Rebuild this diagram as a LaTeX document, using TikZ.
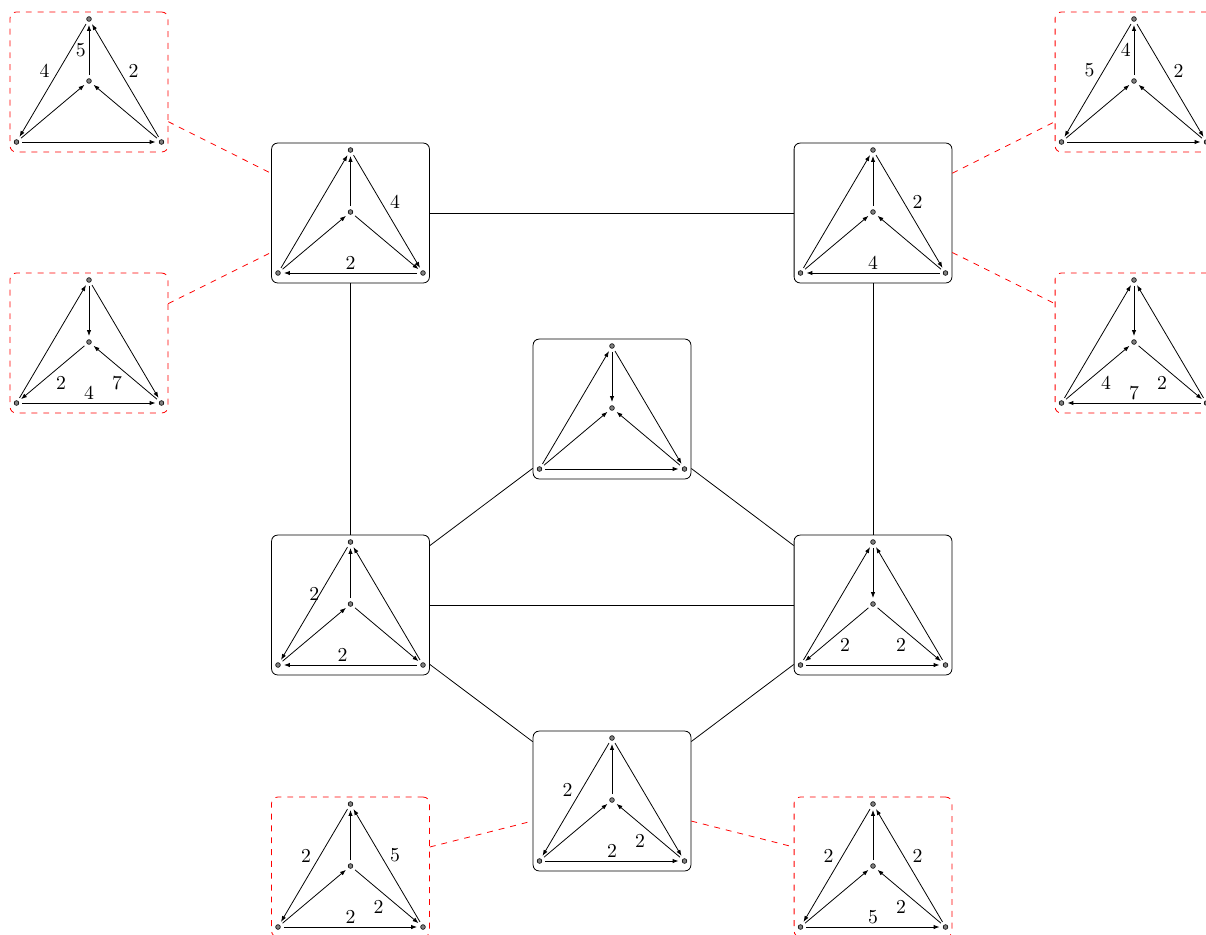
\documentclass[tikz,border=0pt]{standalone}
\usetikzlibrary{arrows.meta}
\tikzset{
  vtx/.style={circle, draw=black, fill=gray, line width=0.3pt, inner sep=0pt,
              minimum size=2.4pt, outer sep=1.8pt},
  arc/.style={-{Latex[length=3pt,width=2.2pt]}},
  lbl/.style={inner sep=1.5pt},
  gbox/.style={draw, rounded corners=3pt, minimum width=2.81cm,
               minimum height=2.49cm, inner sep=0pt},
  redbox/.style={gbox, draw=red, dashed},
  redlink/.style={draw=red, dashed},
}
% frame and the four vertices of one graph: name, x, y, frame style
\newcommand{\graphat}[4]{%
  \node[#4] (#1) at (#2,#3) {};
  \begin{scope}[shift={(#2,#3)}]
    \node[vtx] (#1t) at (0,-63) {};
    \node[vtx] (#1c) at (0,-1) {};
    \node[vtx] (#1l) at (-72.5,60) {};
    \node[vtx] (#1r) at (72.5,60) {};
  \end{scope}}
% arcs without a weight
\newcommand{\arcsof}[2]{%
  \foreach \a/\b in {#2} \draw[arc] (#1\a) -- (#1\b);}

\begin{document}
\begin{tikzpicture}[x=0.0178cm, y=-0.0178cm]
  \useasboundingbox (0,0) rectangle (1206,934);

  \graphat{g1}{89}{82}{redbox}
  \graphat{g2}{350.5}{213}{gbox}
  \graphat{g3}{873}{213}{gbox}
  \graphat{g4}{1134}{82}{redbox}
  \graphat{g5}{89}{343}{redbox}
  \graphat{g6}{1134}{343}{redbox}
  \graphat{g7}{612}{409}{gbox}
  \graphat{g8}{350.5}{605}{gbox}
  \graphat{g9}{873}{605}{gbox}
  \graphat{g10}{612}{801}{gbox}
  \graphat{g11}{350.5}{867}{redbox}
  \graphat{g12}{873}{867}{redbox}

  % links between the graphs
  \draw (g2) -- (g3);
  \draw (g2) -- (g8);
  \draw (g3) -- (g9);
  \draw (g8) -- (g9);
  \draw (g8) -- (g7);
  \draw (g7) -- (g9);
  \draw (g8) -- (g10);
  \draw (g10) -- (g9);
  \draw[redlink] (g1) -- (g2);
  \draw[redlink] (g5) -- (g2);
  \draw[redlink] (g3) -- (g4);
  \draw[redlink] (g3) -- (g6);
  \draw[redlink] (g11) -- (g10);
  \draw[redlink] (g10) -- (g12);

  % g1
  \arcsof{g1}{l/c, r/c, l/r}
  \draw[arc] (g1c) -- node[lbl, left] {5} (g1t);
  \draw[arc] (g1t) -- node[lbl, above left] {4} (g1l);
  \draw[arc] (g1r) -- node[lbl, above right] {2} (g1t);

  % g2
  \arcsof{g2}{l/t, c/t, l/c, c/r}
  \draw[arc] (g2t) -- node[lbl, above right] {4} (g2r);
  \draw[arc] (g2r) -- node[lbl, above] {2} (g2l);

  % g3
  \arcsof{g3}{l/t, c/t, l/c, r/c}
  \draw[arc] (g3t) -- node[lbl, above right] {2} (g3r);
  \draw[arc] (g3r) -- node[lbl, above] {4} (g3l);

  % g4
  \arcsof{g4}{l/c, r/c, l/r}
  \draw[arc] (g4t) -- node[lbl, above left] {5} (g4l);
  \draw[arc] (g4c) -- node[lbl, left] {4} (g4t);
  \draw[arc] (g4t) -- node[lbl, above right] {2} (g4r);

  % g5
  \arcsof{g5}{l/t, t/c, t/r}
  \draw[arc] (g5c) -- node[lbl, below right] {2} (g5l);
  \draw[arc] (g5r) -- node[lbl, below left] {7} (g5c);
  \draw[arc] (g5l) -- node[lbl, above] {4} (g5r);

  % g6
  \arcsof{g6}{l/t, t/c, r/t}
  \draw[arc] (g6l) -- node[lbl, below right] {4} (g6c);
  \draw[arc] (g6c) -- node[lbl, below left] {2} (g6r);
  \draw[arc] (g6r) -- node[lbl, above] {7} (g6l);

  % g7
  \arcsof{g7}{l/t, t/c, t/r, l/c, r/c, l/r}

  % g8
  \arcsof{g8}{c/t, r/t, l/c, c/r}
  \draw[arc] (g8t) -- node[lbl, above] {2} (g8l);
  \draw[arc] (g8r) -- node[lbl, above, pos=0.56] {2} (g8l);

  % g9
  \arcsof{g9}{l/t, r/t, t/c, l/r}
  \draw[arc] (g9c) -- node[lbl, below right] {2} (g9l);
  \draw[arc] (g9c) -- node[lbl, below left] {2} (g9r);

  % g10
  \arcsof{g10}{l/c, c/t, t/r}
  \draw[arc] (g10t) -- node[lbl, above left] {2} (g10l);
  \draw[arc] (g10r) -- node[lbl, below left] {2} (g10c);
  \draw[arc] (g10l) -- node[lbl, above] {2} (g10r);

  % g11
  \arcsof{g11}{l/c, c/t}
  \draw[arc] (g11t) -- node[lbl, above left] {2} (g11l);
  \draw[arc] (g11r) -- node[lbl, above right] {5} (g11t);
  \draw[arc] (g11c) -- node[lbl, below left] {2} (g11r);
  \draw[arc] (g11l) -- node[lbl, above] {2} (g11r);

  % g12
  \arcsof{g12}{l/c, c/t}
  \draw[arc] (g12t) -- node[lbl, above left] {2} (g12l);
  \draw[arc] (g12r) -- node[lbl, above right] {2} (g12t);
  \draw[arc] (g12r) -- node[lbl, below left] {2} (g12c);
  \draw[arc] (g12l) -- node[lbl, above] {5} (g12r);
\end{tikzpicture}
\end{document}
